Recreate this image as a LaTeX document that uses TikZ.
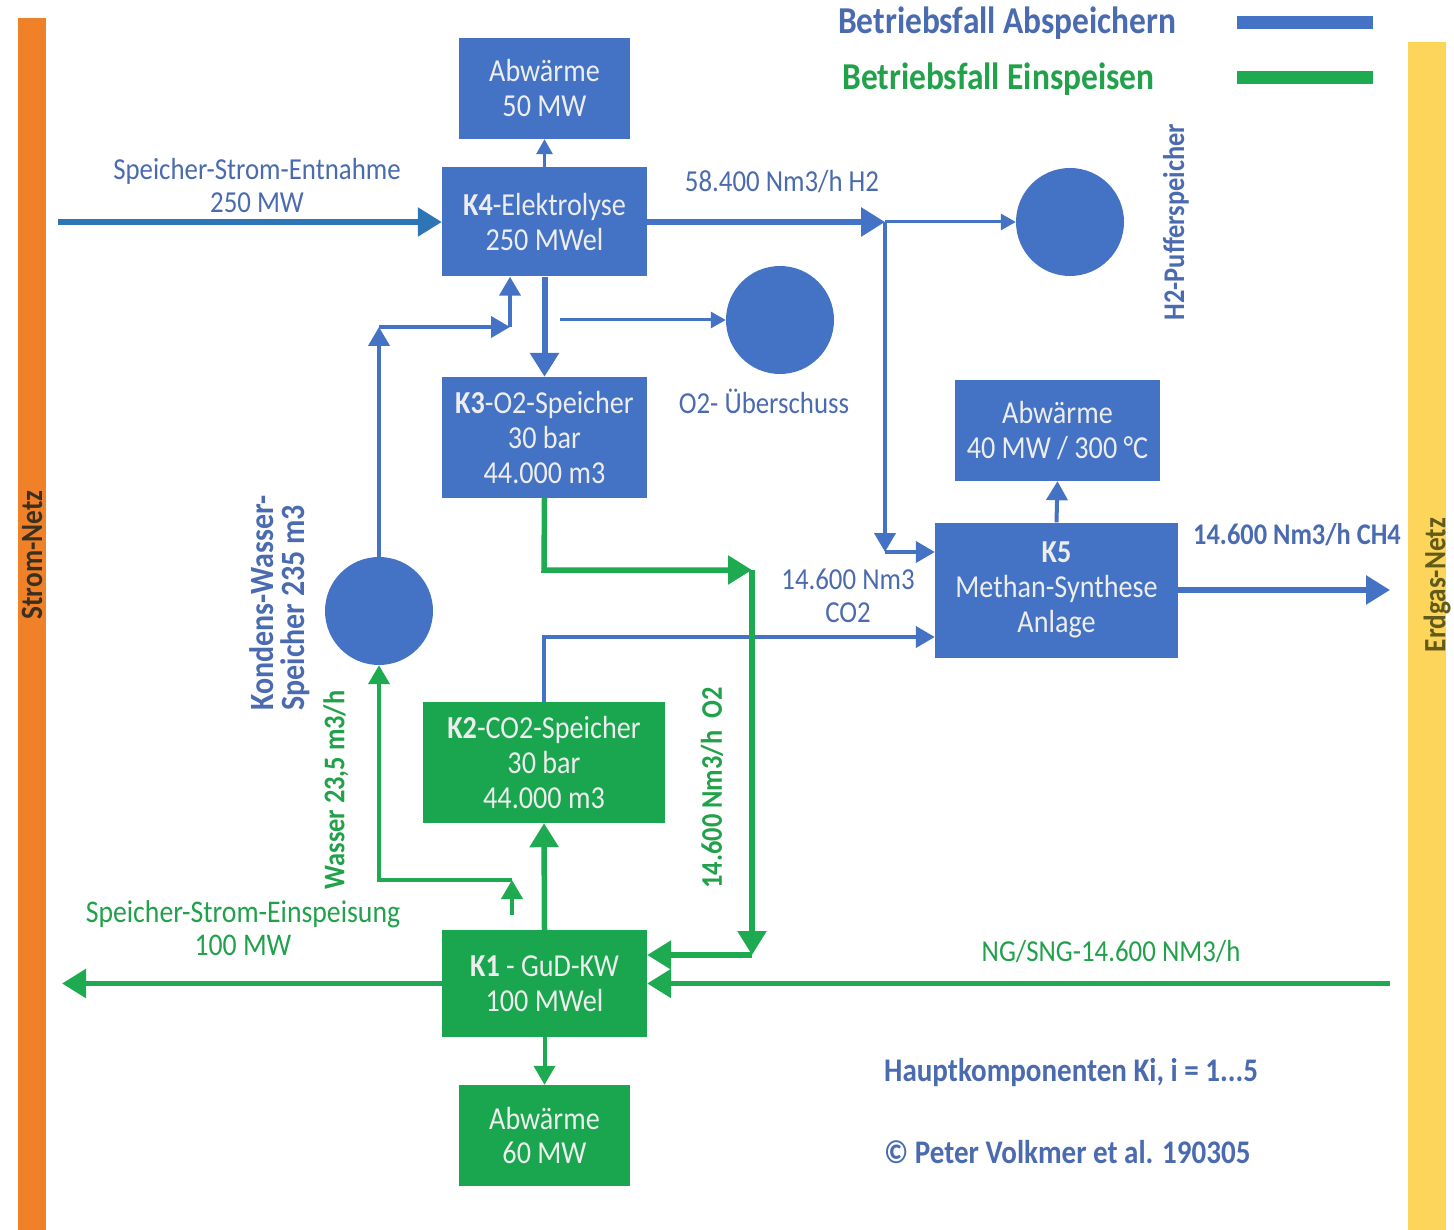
\documentclass[tikz,border=0pt]{standalone}
\usepackage{fontspec}
\setmainfont{Carlito}[FakeStretch=0.88]
\usetikzlibrary{arrows.meta}
\definecolor{bboxc}{HTML}{4472C4}
\definecolor{gboxc}{HTML}{1AA64F}
\definecolor{blinec}{HTML}{4472C4}
\definecolor{elinec}{HTML}{2E75B6}
\definecolor{glinec}{HTML}{1DAA50}
\definecolor{btextc}{HTML}{4A6BB0}
\definecolor{gtextc}{HTML}{22A14B}
\definecolor{orangebar}{HTML}{F08129}
\definecolor{yellowbar}{HTML}{FDD55A}
\definecolor{bartext}{HTML}{3A3020}
\begin{document}
\begin{tikzpicture}[x=1pt,y=-1pt,
  boxbase/.style={draw=none, inner sep=0pt, align=center, text=white!93!black,
    font=\fontsize{32}{35}\selectfont},
  bluebox/.style={boxbase, fill=bboxc},
  greenbox/.style={boxbase, fill=gboxc},
  tank/.style={circle, fill=bboxc, minimum size=108pt, inner sep=0pt},
  lbl/.style={align=center, inner sep=0pt, font=\fontsize{30.5}{33}\selectfont, text=btextc},
  blbl/.style={lbl, font=\fontsize{30}{33}\selectfont\bfseries},
  glbl/.style={lbl, text=gtextc},
  gblbl/.style={blbl, text=gtextc},
  tipL/.style={-{Triangle[length=24pt,width=28pt]}},
  tipM/.style={-{Triangle[length=19pt,width=21pt]}},
  tipS/.style={-{Triangle[length=15pt,width=16pt]}},
  bw/.style={line width=5.5pt},
  mw/.style={line width=4pt},
  sw/.style={line width=3pt}
]
\useasboundingbox (0,0) rectangle (1454,1230);
\fill[white] (0,0) rectangle (1454,1230);

% side bars
\fill[orangebar] (18,18) rectangle (46,1230);
\fill[yellowbar] (1408,42) rectangle (1446,1230);
\node[rotate=90, font=\fontsize{31}{33}\selectfont\bfseries, text=bartext] (stromlbl) at (32,555) {Strom-Netz};
\node[rotate=90, font=\fontsize{31}{33}\selectfont\bfseries, text=bartext!80!yellow] (erdgaslbl) at (1437,585) {Erdgas-Netz};

% legend
\node[font=\fontsize{38}{40}\selectfont\bfseries, text=btextc, anchor=east] (leg1) at (1180,23) {Betriebsfall Abspeichern};
\node[font=\fontsize{38}{40}\selectfont\bfseries, text=gtextc, anchor=east] (leg2) at (1158,79) {Betriebsfall Einspeisen};
\fill[blinec] (1237,16) rectangle (1373,29);
\fill[glinec] (1237,71) rectangle (1373,84);

% boxes
\node[bluebox, minimum width=171pt, minimum height=101pt] (aw50) at (544.5,88.5) {Abwärme\\50 MW};
\node[bluebox, minimum width=205pt, minimum height=109pt] (k4) at (544.5,222) {{\bfseries K4}-Elektrolyse\\250 MWel};
\node[bluebox, minimum width=205pt, minimum height=121pt] (k3) at (544.5,437.5) {{\bfseries K3}-O2-Speicher\\30 bar\\44.000 m3};
\node[bluebox, minimum width=205pt, minimum height=101pt] (aw40) at (1057.5,430.5) {Abwärme\\40 MW / 300 °C};
\node[bluebox, minimum width=243pt, minimum height=135pt] (k5) at (1056.5,590) {{\bfseries K5}\\Methan-Synthese\\Anlage};
\node[greenbox, minimum width=242pt, minimum height=121pt] (k2) at (544,762.5) {{\bfseries K2}-CO2-Speicher\\30 bar\\44.000 m3};
\node[greenbox, minimum width=205pt, minimum height=107pt] (k1) at (544.5,983.5) {{\bfseries K1} - GuD-KW\\100 MWel};
\node[greenbox, minimum width=171pt, minimum height=101pt] (aw60) at (544.5,1135.5) {Abwärme\\60 MW};

% tanks
\node[tank] (h2) at (1070,222) {};
\node[tank] (o2) at (780,320) {};
\node[tank] (kw) at (379,611) {};

% labels
\node[lbl] (entl) at (257,186) {Speicher-Strom-Entnahme\\250 MW};
\node[lbl] (h2l) at (782,182) {58.400 Nm3/h H2};
\node[blbl, rotate=90] (h2pl) at (1176,222) {H2-Pufferspeicher};
\node[lbl] (o2l) at (764,401) {O2- Überschuss};
\node[blbl, rotate=90, align=left, font=\fontsize{34}{31}\selectfont\bfseries] (kwl) at (280,603) {Kondens-Wasser-\\Speicher 235 m3};
\node[gblbl, rotate=90] (wasl) at (336,790) {Wasser 23,5 m3/h};
\node[gblbl, rotate=90] (o2fl) at (712,788) {14.600 Nm3/h\ \ O2};
\node[lbl] (co2l) at (848,596) {14.600 Nm3\\CO2};
\node[blbl] (ch4l) at (1297,535) {14.600 Nm3/h CH4};
\node[glbl, font=\fontsize{31.5}{33}\selectfont] (einl) at (243,928) {Speicher-Strom-Einspeisung\\100 MW};
\node[glbl] (ngl) at (1111,952) {NG/SNG-14.600 NM3/h};
\node[blbl, anchor=west, font=\fontsize{33}{33}\selectfont\bfseries] (hkl) at (884,1073) {Hauptkomponenten Ki, i = 1...5};
\node[blbl, anchor=west, font=\fontsize{33}{33}\selectfont\bfseries] (cpl) at (884,1152) {© Peter Volkmer et al. 190305};

% coordinates
\coordinate (entA) at (58,222);
\coordinate (jH2) at (885,222);
\coordinate (jK5) at (885,552);
\coordinate (o2s) at (560,320);
\coordinate (kwc) at (379,327);
\coordinate (kwr) at (510,327);
\coordinate (co2c) at (544,637);
\coordinate (g1) at (544,570);
\coordinate (g2) at (752,570);
\coordinate (g3) at (752,955);
\coordinate (ngs) at (1390,983.5);
\coordinate (sn) at (62,983.5);
\coordinate (w1) at (512,915);
\coordinate (w2) at (512,880);
\coordinate (w3) at (379,880);
\coordinate (eg) at (1390,590);

% blue connectors
\draw[elinec, bw, tipL] (entA) -- (k4.west);
\draw[blinec, sw, tipS] (k4.north) -- (aw50.south);
\draw[blinec, line width=6pt, tipL] (k4.east) -- (jH2);
\draw[blinec, sw, tipS] (jH2) -- (h2.west);
\draw[blinec, mw, tipM] (jH2) -- (jK5);
\draw[blinec, mw, tipM] (jK5) -- (k5.west |- jK5);
\draw[blinec, line width=6pt, tipL] (k4.south) -- (k3.north);
\draw[blinec, sw, tipS] (o2s) -- (o2.west);
\draw[blinec, mw, tipM] (kw.north) -- (kwc);
\draw[blinec, mw, tipM] (kwc) -- (kwr);
\draw[blinec, mw, tipM] (kwr) -- (kwr |- k4.south);
\draw[blinec, mw, tipM] (k2.north) -- (co2c) -- (k5.west |- co2c);
\draw[blinec, mw, tipM] (k5.north) -- (aw40.south);
\draw[blinec, bw, tipL] (k5.east) -- (eg);

% green connectors
\draw[glinec, bw, tipL] (k3.south) -- (g1) -- (g2);
\draw[glinec, bw, tipL] (g2) -- (g3);
\draw[glinec, bw, tipL] (g3) -- (k1.east |- g3);
\draw[glinec, bw, tipL] (ngs) -- (k1.east);
\draw[glinec, bw, tipL] (k1.west) -- (sn);
\draw[glinec, bw, tipL] (k1.north) -- (k2.south);
\draw[glinec, mw, tipM] (w1) -- (w2);
\draw[glinec, mw, tipM] (w2) -- (w3) -- (kw.south);
\draw[glinec, mw, tipM] (k1.south) -- (aw60.north);
\end{tikzpicture}
\end{document}
